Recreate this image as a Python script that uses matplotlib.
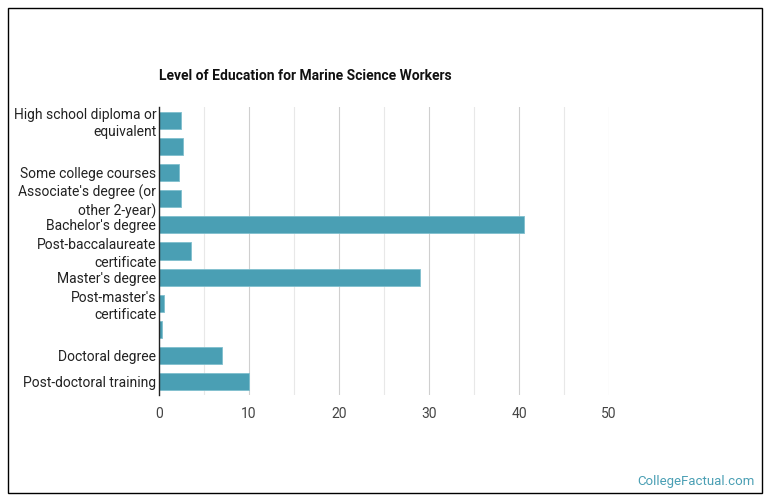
import matplotlib.pyplot as plt
from matplotlib.patches import Rectangle
from matplotlib.ticker import MultipleLocator

plt.rcParams['font.family'] = ['Roboto', 'DejaVu Sans']

categories = [
    "High school diploma or\nequivalent",
    "",
    "Some college courses",
    "Associate's degree (or\nother 2-year)",
    "Bachelor's degree",
    "Post-baccalaureate\ncertificate",
    "Master's degree",
    "Post-master's\ncertificate",
    "",
    "Doctoral degree",
    "Post-doctoral training",
]
values = [2.4, 2.7, 2.2, 2.4, 40.5, 3.5, 29.0, 0.5, 0.35, 7.0, 10.0]
xticks = [0, 10, 20, 30, 40, 50]

fig = plt.figure(figsize=(7.7, 5.03), dpi=100)
ax = fig.add_axes([159 / 770, 1 - 395 / 503, (609 - 159) / 770, 288 / 503])

pos = list(range(len(categories)))
ax.barh(pos, values, height=0.65, color="#4a9fb4", edgecolor="#7fbfce", linewidth=0.6, zorder=3)

ax.set_ylim(len(categories) - 0.5, -0.5)
ax.set_xlim(0, 50)
ax.set_yticks(pos)
ax.set_yticklabels(categories, fontsize=10, color="#222222", linespacing=1.3)
ax.set_xticks(xticks)
ax.xaxis.set_minor_locator(MultipleLocator(5))
ax.tick_params(axis="x", which="both", length=0, labelsize=10, labelcolor="#444444", pad=9)
ax.tick_params(axis="y", length=0, pad=2)
ax.grid(axis="x", which="major", color="#cfcfcf", linewidth=0.8, zorder=0)
ax.grid(axis="x", which="minor", color="#e8e8e8", linewidth=0.8, zorder=0)

for side in ["top", "right", "bottom"]:
    ax.spines[side].set_visible(False)
ax.spines["left"].set_color("#222222")
ax.spines["left"].set_linewidth(1)
ax.spines["left"].set_zorder(4)

fig.text(159 / 770, 1 - 76 / 503, "Level of Education for Marine Science Workers",
         fontsize=10, fontweight="bold", color="#111111", ha="left", va="center")
fig.text(755 / 770, 1 - 481 / 503, "CollegeFactual.com", fontsize=9.5,
         color="#4a9fb4", ha="right", va="center")

fig.patches.append(Rectangle((8 / 770, 1 - 493 / 503), 754 / 770, 485 / 503,
                             transform=fig.transFigure, fill=False,
                             edgecolor="black", linewidth=1))

fig.savefig("out.png", dpi=100)
